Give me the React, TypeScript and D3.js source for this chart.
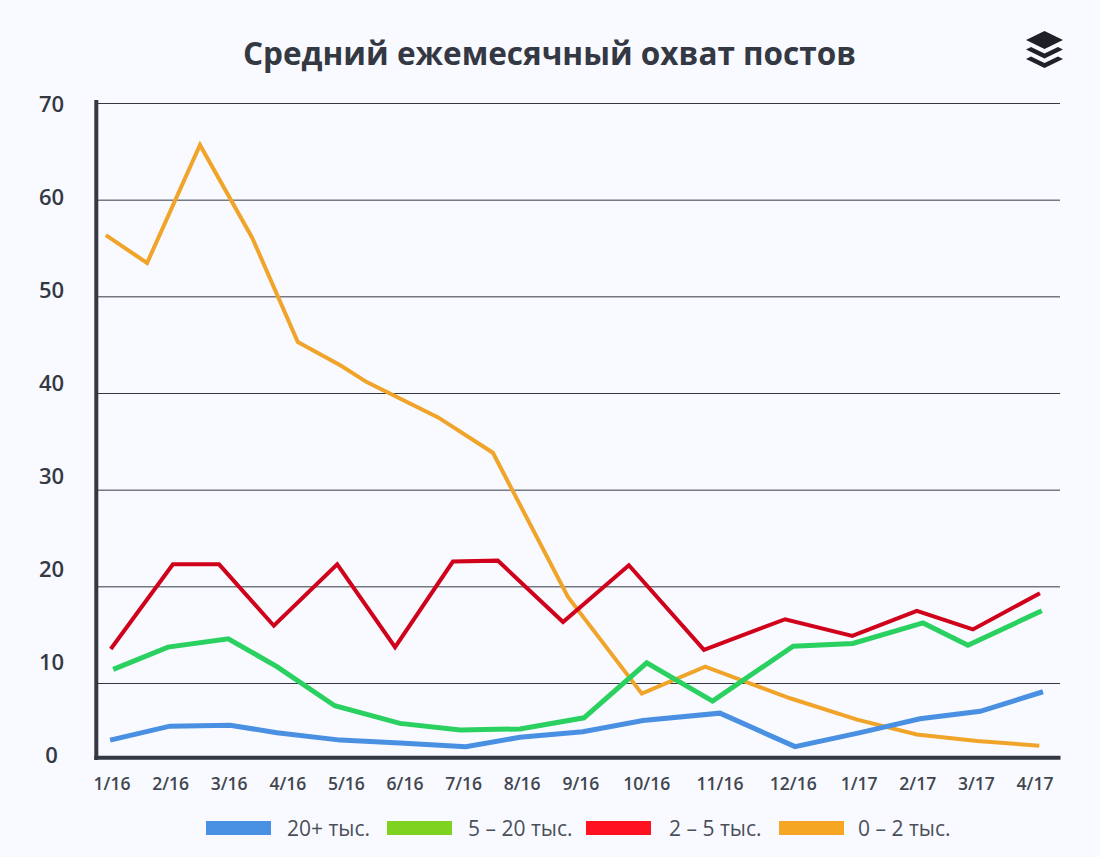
import * as d3 from 'd3';

const WIDTH = 1100;
const HEIGHT = 857;
const FONT = '"Open Sans", "Noto Sans", sans-serif';
const INK = '#343843';

const TITLE = 'Средний ежемесячный охват постов';
const MONTHS = ['1/16', '2/16', '3/16', '4/16', '5/16', '6/16', '7/16', '8/16', '9/16', '10/16', '11/16', '12/16', '1/17', '2/17', '3/17', '4/17'];
const Y_LABELS = [0, 10, 20, 30, 40, 50, 60, 70];
const GRID_VALUES = [10, 20, 30, 40, 50, 60, 70];

// x is months since 1/16, y is the value on the printed axis.
const BLUE_X = [-0.03, 0.94, 1.92, 2.68, 3.71, 4.68, 5.75, 6.63, 7.65, 8.63, 9.88, 11.1, 12.16, 13.13, 14.11, 15.13];
const BLUE_Y = [1.6, 3.1, 3.2, 2.4, 1.6, 1.3, 0.9, 1.9, 2.5, 3.7, 4.5, 0.9, 2.4, 3.9, 4.7, 6.8];
const GREEN_X = [0.02, 0.91, 1.89, 2.68, 3.62, 4.68, 5.66, 6.63, 7.67, 8.69, 9.76, 11.07, 12.04, 13.18, 13.91, 15.11];
const GREEN_Y = [9.2, 11.6, 12.5, 9.5, 5.3, 3.4, 2.7, 2.8, 4.0, 9.9, 5.8, 11.7, 12.0, 14.2, 11.8, 15.5];
const RED_X = [-0.02, 0.99, 1.74, 2.63, 3.66, 4.6, 5.54, 6.27, 7.33, 8.4, 9.62, 10.94, 12.03, 13.08, 13.99, 15.08];
const RED_Y = [11.4, 20.5, 20.5, 13.9, 20.5, 11.6, 20.8, 20.9, 14.3, 20.4, 11.3, 14.6, 12.8, 15.5, 13.5, 17.4];
const ORANGE_X = [-0.1, 0.57, 1.43, 2.28, 3.02, 3.71, 4.14, 5.3, 6.19, 7.41, 8.61, 9.64, 11.02, 12.11, 13.08, 14.06, 15.07];
const ORANGE_Y = [55.9, 52.9, 65.6, 55.6, 44.4, 41.9, 40.1, 36.3, 32.5, 17.0, 6.6, 9.5, 6.1, 3.8, 2.2, 1.5, 1.0];

const SERIES = [
  { xs: ORANGE_X, ys: ORANGE_Y, color: '#f0a42a', width: 4 },
  { xs: RED_X, ys: RED_Y, color: '#d0021b', width: 4 },
  { xs: GREEN_X, ys: GREEN_Y, color: '#2bd160', width: 5 },
  { xs: BLUE_X, ys: BLUE_Y, color: '#4a90e2', width: 5 },
];

const LEGEND = [
  { label: '20+ тыс.', color: '#4a90e2', swatch: 206, text: 287 },
  { label: '5 – 20 тыс.', color: '#7ed321', swatch: 387, text: 468 },
  { label: '2 – 5 тыс.', color: '#ff1220', swatch: 586, text: 669 },
  { label: '0 – 2 тыс.', color: '#f5a623', swatch: 779, text: 858 },
];

// labels were printed with an even gap between them, so wider labels sit further apart
const tickSlots = MONTHS.map((_, i) =>
  d3.sum(MONTHS.slice(0, i), (m, j) => (m.length + MONTHS[j + 1].length) / 2)
);

export default function App() {
  const x = d3.scaleLinear().domain([0, 15]).range([112, 1035]);
  const y = d3.scaleLinear().domain([0, 70]).range([755, 104]);
  // the printed gridlines do not share the spacing of the printed labels
  const gridY = d3.scaleLinear().domain([10, 70]).range([683.5, 103.5]);
  const tickX = d3.scaleLinear().domain([0, d3.max(tickSlots) as number]).range([112, 1035]);
  const line = d3.line<[number, number]>().x((d) => x(d[0])).y((d) => y(d[1]));

  return (
    <svg
      width={WIDTH}
      height={HEIGHT}
      viewBox={`0 0 ${WIDTH} ${HEIGHT}`}
      style={{ position: 'absolute', left: 0, top: 0, display: 'block', fontFamily: FONT }}
    >
      <rect width={WIDTH} height={HEIGHT} fill="#f8faff" />

      <text x={549.5} y={65} textAnchor="middle" fontSize={31.5} fontWeight={700} fill={INK}>
        {TITLE}
      </text>

      <g fill="#1f2129">
        <path d="M1044.5 31 L1063 40 L1044.5 49 L1026 40 Z" />
        <path d="M1031 47 L1044.5 53.5 L1058 47 L1063 49.5 L1044.5 58.5 L1026 49.5 Z" />
        <path d="M1031 56.5 L1044.5 63 L1058 56.5 L1063 59 L1044.5 68 L1026 59 Z" />
      </g>

      {GRID_VALUES.map((v) => (
        <line key={v} x1={97} x2={1060} y1={gridY(v)} y2={gridY(v)} stroke="#343843" strokeWidth={1} />
      ))}

      {Y_LABELS.map((v) => (
        <text key={v} x={51.5} y={y(v)} dy="0.36em" textAnchor="middle" fontSize={22} fontWeight={600} fill={INK}>
          {v}
        </text>
      ))}

      {MONTHS.map((m, i) => (
        <text key={m} x={tickX(tickSlots[i])} y={790} textAnchor="middle" fontSize={17.5} fontWeight={600} fill="#42464f">
          {m}
        </text>
      ))}

      {SERIES.map((s) => (
        <path
          key={s.color}
          d={line(s.xs.map((v, i) => [v, s.ys[i]] as [number, number])) as string}
          fill="none"
          stroke={s.color}
          strokeWidth={s.width}
          strokeLinejoin="miter"
        />
      ))}

      <line x1={96.3} x2={96.3} y1={100} y2={760} stroke={INK} strokeWidth={4} />
      <line x1={94.3} x2={1060.5} y1={757.8} y2={757.8} stroke={INK} strokeWidth={4} />

      {LEGEND.map((d) => (
        <g key={d.label}>
          <rect x={d.swatch} y={821} width={65} height={14} fill={d.color} />
          <text x={d.text} y={835.5} fontSize={21} fill="#4b4f59">
            {d.label}
          </text>
        </g>
      ))}
    </svg>
  );
}
